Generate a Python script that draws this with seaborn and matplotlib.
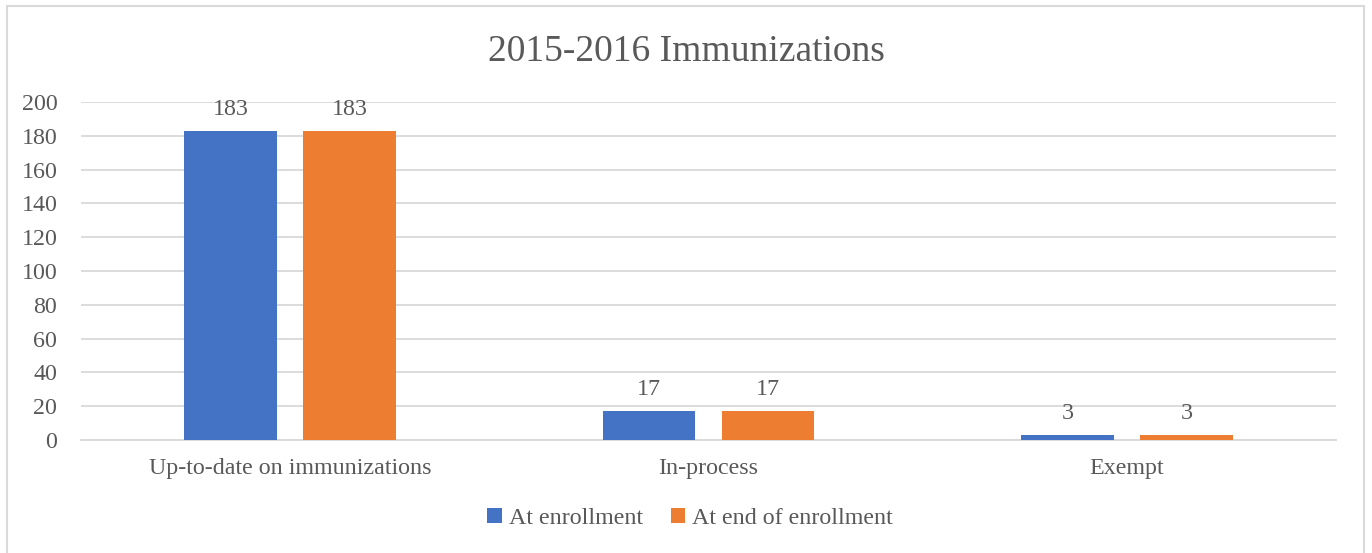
import pandas as pd
import matplotlib
matplotlib.use('Agg')
import matplotlib.pyplot as plt
import seaborn as sns
from matplotlib.patches import Rectangle

categories = ["Up-to-date on immunizations", "In-process", "Exempt"]
series_names = ["At enrollment", "At end of enrollment"]
at_enrollment = [183, 17, 3]
at_end_of_enrollment = [183, 17, 3]
y_ticks = [0, 20, 40, 60, 80, 100, 120, 140, 160, 180, 200]

df = pd.DataFrame({
    "category": categories * 2,
    "series": [series_names[0]] * 3 + [series_names[1]] * 3,
    "value": at_enrollment + at_end_of_enrollment,
})

sns.set_theme(style="white")
plt.rcParams['font.family'] = ['Liberation Serif', 'DejaVu Serif']
text_color = "#595959"
grid_color = "#d9d9d9"

fig = plt.figure(figsize=(13.72, 5.53), dpi=100)
ax = fig.add_axes([0.059, 0.2043, 0.9148, 0.6113])

sns.barplot(data=df, x="category", y="value", hue="series",
            palette=["#4472C4", "#ED7D31"], saturation=1, width=0.569, gap=0.22,
            linewidth=0, errorbar=None, ax=ax, zorder=3)

for cont in ax.containers:
    ax.bar_label(cont, padding=8, fontsize=17.3, color=text_color)

ax.set_ylim(0, 200)
ax.set_xlim(-0.5, 2.5)
ax.set_yticks(y_ticks)
ax.yaxis.grid(True, color=grid_color, linewidth=1.3, zorder=0)
ax.set_axisbelow(True)
for s in ["left", "right", "top"]:
    ax.spines[s].set_visible(False)
ax.spines["bottom"].set_color(grid_color)
ax.spines["bottom"].set_linewidth(1.3)
ax.tick_params(axis="both", length=0, labelsize=17.3, labelcolor=text_color)
ax.tick_params(axis="y", pad=17)
ax.tick_params(axis="x", pad=13)
ax.set_xlabel("")
ax.set_ylabel("")

fig.text(0.5, 0.906, "2015-2016 Immunizations", ha="center", va="center",
         fontsize=27, color=text_color)

handles, labels = ax.get_legend_handles_labels()
ax.get_legend().remove()
fig.legend(handles, labels, loc="center", bbox_to_anchor=(0.503, 0.062), ncol=2,
           frameon=False, fontsize=17.3, labelcolor=text_color,
           handlelength=0.6, handleheight=0.6, handletextpad=0.3, columnspacing=1.15)

fig.patches.append(Rectangle((7 / 1372, -0.01), 1357 / 1372, 1 - 6 / 553 + 0.01,
                             transform=fig.transFigure, fill=False,
                             edgecolor=grid_color, linewidth=1.5))

fig.savefig("out.png", dpi=100)
